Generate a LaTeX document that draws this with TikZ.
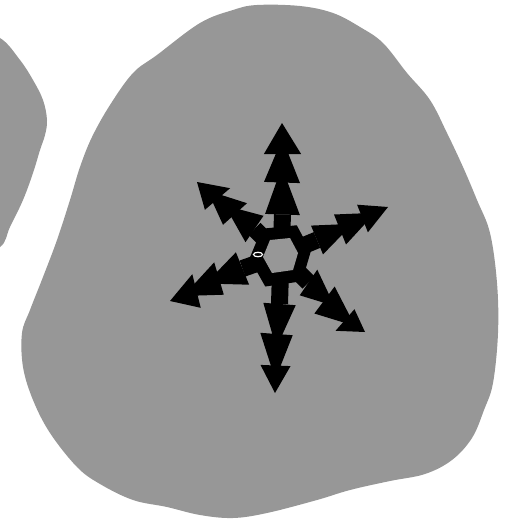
\documentclass[tikz,border=0pt]{standalone}
\usetikzlibrary{calc}
\newcommand\arrtri[4]{\fill[tri] (#1) -- ($($(#2)!0.5!(#3)$)!#4!(#2)$) -- ($($(#2)!0.5!(#3)$)!#4!(#3)$) -- cycle;}
\begin{document}
\begin{tikzpicture}[x=1pt,y=-1pt,
  blobfill/.style={fill=dotgray},
  tri/.style={fill=black},
  stem/.style={draw=black,line width=17pt},
  ]
\definecolor{dotgray}{HTML}{979797}
\useasboundingbox (0,0) rectangle (508,519);
\clip (0,0) rectangle (508,519);
% left partial blob
\fill[blobfill] plot[smooth cycle,tension=0.6] coordinates{
 (-30,30) (0,38) (20,60) (33,80) (43,100) (47,120) (45,135) (40,150) (33,173) (23,200) (10,227) (0,247) (-30,255)};
% main blob
\fill[blobfill] plot[smooth cycle,tension=0.6] coordinates{
 (257,5) (300,6) (333,13) (360,27) (383,43) (407,73) (430,100) (447,133) (463,167) (477,200) (490,233) (497,283) (498,333) (493,383) (484,410) (472,438) (452,460) (425,474) (390,481) (350,490) (317,500) (267,513) (233,518) (200,515) (167,507) (133,500) (100,484) (77,467) (50,433) (33,400) (23,367) (22,333) (30,310) (43,277) (57,240) (70,200) (80,167) (92,137) (110,105) (133,73) (157,55) (200,23) (233,10)};
% centre
\coordinate (c) at (281,255);
\coordinate (h1) at (263,257);
\coordinate (h2) at (270,240);
\coordinate (h3) at (290,238);
\coordinate (h4) at (298,253);
\coordinate (h5) at (293,270);
\coordinate (h6) at (272,273);
\fill[black] ($(c)!1.75!(h1)$) -- ($(c)!1.75!(h2)$) -- ($(c)!1.75!(h3)$) -- ($(c)!1.75!(h4)$) -- ($(c)!1.75!(h5)$) -- ($(c)!1.75!(h6)$) -- cycle;
% stems
\draw[stem] (c) -- (282.5,214.5);
\draw[stem] (c) -- (254.5,229);
\draw[stem] (c) -- (317,240);
\draw[stem] (c) -- (242.5,268.5);
\draw[stem] (c) -- (308.5,282.5);
\draw[stem] (c) -- (279.5,304);
% top arm
\arrtri{281.8,167}{268,214}{297,215}{1.2}
\arrtri{282.3,138.5}{267,182}{297,183}{1.2}
\arrtri{282,123}{267,154}{298,154}{1.2}
% upper-left arm
\arrtri{224.8,205.5}{262,218}{247,240}{1.2}
\arrtri{207.3,190.5}{245,205}{225,223}{1.2}
\arrtri{197,182}{228,190}{207,208}{1.2}
% upper-right arm
\arrtri{352.7,223.8}{312,228}{322,252}{1.2}
\arrtri{375.2,212.8}{335,217}{345,242}{1.2}
\arrtri{388,207}{358,207}{367,230}{1.2}
% lower-left arm
\arrtri{205.8,283.5}{237,255}{248,282}{1.2}
\arrtri{183.3,296}{215,265}{223,292}{1.2}
\arrtri{170,301}{193,277}{200,305}{1.2}
% lower-right arm
\arrtri{334.5,306}{302,292}{315,273}{1.35}
\arrtri{355,326}{317,310}{332,290}{1.35}
\arrtri{365,332}{338,328}{352,312}{1.35}
% bottom arm
\arrtri{276.3,347.8}{266,303}{293,305}{1.2}
\arrtri{275.3,379.3}{263,333}{290,335}{1.2}
\arrtri{275,393}{263,365}{288,366}{1.2}
% central hexagon hole
\fill[blobfill] (h1) -- (h2) -- (h3) -- (h4) -- (h5) -- (h6) -- cycle;
% small white ring
\draw[white,line width=1.2pt] (258,254.5) ellipse [x radius=4.5, y radius=2.2];
\end{tikzpicture}
\end{document}
